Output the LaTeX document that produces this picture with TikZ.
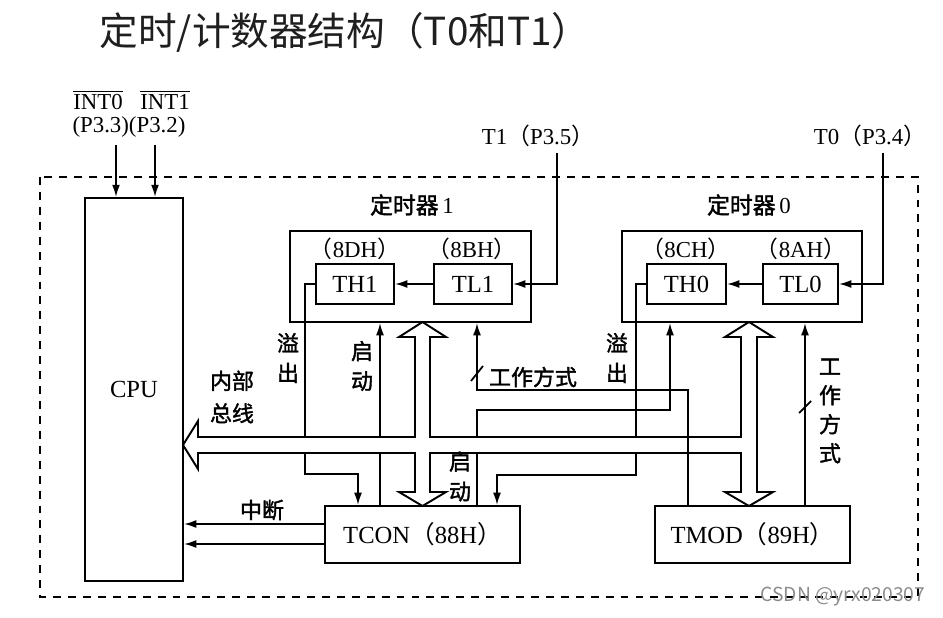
\documentclass[tikz,border=0pt]{standalone}
\usepackage{fontspec}
\setmainfont{Liberation Serif}
\newfontfamily\cjk{Noto Sans CJK SC}
\newfontfamily\cjkb{Noto Sans CJK SC}[FakeBold=1.6]
\usetikzlibrary{arrows.meta}
\newcommand{\zlp}{{\cjk （}}
\newcommand{\zrp}{{\cjk ）}}

\begin{document}
\begin{tikzpicture}[x=0.02cm, y=-0.02cm, line width=1pt,
    font=\fontsize{13}{15}\selectfont,
    reg/.style={rectangle, draw, line width=1.1pt, inner sep=0pt, font=\fontsize{14}{16}\selectfont},
    grp/.style={rectangle, draw, line width=1.1pt, inner sep=0pt},
    zh/.style={font=\fontsize{12.5}{17}\selectfont\cjkb, align=center, inner sep=0pt},
    arr/.style={-{Latex[length=7pt,width=4.5pt]}},
    bus/.style={line width=1.1pt, line join=miter}]
\useasboundingbox (0,0) rectangle (943,618);

% title
\node[font=\fontsize{22}{26}\selectfont\cjk, text=black!88] (title) at (345,32) {定时/计数器结构（T0和T1）};

% dashed frame
\draw[line width=1.1pt, dash pattern=on 4.5pt off 4pt] (40,177) rectangle (918,597);

% CPU
\node[reg, minimum width=1.96cm, minimum height=7.66cm] (cpu) at (134,389.5) {CPU};
\node (int0lbl) at (98,100) {$\overline{\hbox{INT0}}$};
\node (int1lbl) at (165,100) {$\overline{\hbox{INT1}}$};
\node (plbl) at (129,127) {(P3.3)(P3.2)};
\coordinate (int0in) at (116,145);
\coordinate (int1in) at (155,145);
\draw[arr] (int0in) -- (int0in |- cpu.north);
\draw[arr] (int1in) -- (int1in |- cpu.north);

% timer 1
\node[grp, minimum width=4.82cm, minimum height=1.82cm] (tm1) at (410.5,276.5) {};
\node (tm1lbl) at (412,205) {{\cjkb 定时器}\,1};
\node[reg, minimum width=1.56cm, minimum height=0.8cm] (th1) at (355,284) {TH1};
\node[reg, minimum width=1.56cm, minimum height=0.8cm] (tl1) at (473,284) {TL1};
\node (th1lbl) at (355,249) {\zlp 8DH\zrp};
\node (tl1lbl) at (472,249) {\zlp 8BH\zrp};
\draw[arr] (tl1) -- (th1);
\node (t1lbl) at (538,136) {T1\zlp P3.5\zrp};
\coordinate (t1in) at (557,153);
\draw[arr] (t1in) |- (tl1.east);

% timer 0
\node[grp, minimum width=4.8cm, minimum height=1.82cm] (tm0) at (742,276.5) {};
\node (tm0lbl) at (749,205) {{\cjkb 定时器}\,0};
\node[reg, minimum width=1.58cm, minimum height=0.8cm] (th0) at (686.5,284) {TH0};
\node[reg, minimum width=1.5cm, minimum height=0.8cm] (tl0) at (800.5,284) {TL0};
\node (th0lbl) at (686,249) {\zlp 8CH\zrp};
\node (tl0lbl) at (801,249) {\zlp 8AH\zrp};
\draw[arr] (tl0) -- (th0);
\node (t0lbl) at (870,136) {T0\zlp P3.4\zrp};
\coordinate (t0in) at (883,153);
\draw[arr] (t0in) |- (tl0.east);

% control registers
\node[reg, minimum width=3.9cm, minimum height=1.14cm] (tcon) at (422.5,534.5) {TCON\zlp 88H\zrp};
\node[reg, minimum width=3.9cm, minimum height=1.14cm] (tmod) at (752.5,534.5) {TMOD\zlp 89H\zrp};

% internal bus
\coordinate (btop) at (0,437);
\coordinate (bbot) at (0,453);
\draw[bus] (198,437) -- (415,437) -- (415,337) -- (399,337) -- (422.5,322) -- (446,337)
  -- (430,337) -- (430,437) -- (741,437) -- (741,337) -- (725,337) -- (749,322)
  -- (773,337) -- (757,337) -- (757,492) -- (773,492) -- (749,506) -- (725,492)
  -- (741,492) -- (741,453) -- (430,453) -- (430,492) -- (446,492) -- (422.5,506)
  -- (399,492) -- (415,492) -- (415,453) -- (198,453) -- (198,469) -- (183,445)
  -- (198,421) -- cycle;
\node[zh] (ibus) at (232,397) {内部\\[1.5pt]总线};

% overflow
\draw (th1.west) -- ++(-10,0) coordinate (o1) -- (o1 |- btop);
\coordinate (f1) at (358,474);
\draw[arr] (o1 |- bbot) |- (f1) -- (f1 |- tcon.north);
\node[zh] (ovf1) at (288,358) {溢\\出};
\draw (th0.west) -- ++(-10,0) coordinate (o0) -- (o0 |- btop);
\coordinate (f0) at (497,475);
\draw[arr] (o0 |- bbot) |- (f0) -- (f0 |- tcon.north);
\node[zh] (ovf0) at (617,358) {溢\\出};

% run control
\coordinate (r1) at (380,0);
\draw (r1 |- tcon.north) -- (r1 |- bbot);
\draw[arr] (r1 |- btop) -- (r1 |- tm1.south);
\node[zh] (run1) at (362,366) {启\\动};
\coordinate (s0) at (477,410);
\draw (s0 |- tcon.north) -- (s0 |- bbot);
\coordinate (s0r) at (670,410);
\draw[arr] (s0 |- btop) -- (s0) -- (s0r) -- (s0r |- tm0.south);
\node[zh] (run0) at (460,476.5) {启\\动};

% mode
\coordinate (m1) at (477,390);
\coordinate (m1r) at (688,390);
\draw[arr] (m1r |- tmod.north) -- (m1r) -- (m1) -- (m1 |- tm1.south);
\draw (m1) ++(-6,-9) -- ++(12,-15);
\node[zh] (mode1) at (533,377) {工作方式};
\coordinate (m0) at (805,407);
\draw[arr] (m0 |- tmod.north) -- (m0 |- tm0.south);
\draw (m0) ++(-6,6) -- ++(12,-12);
\node[zh] (mode0) at (830,411) {工\\[-0.5pt]作\\[-0.5pt]方\\[-0.5pt]式};

% interrupt
\draw[arr] ([yshift=0.21cm]tcon.west) coordinate (i1) -- (i1 -| cpu.east);
\draw[arr] ([yshift=-0.19cm]tcon.west) coordinate (i2) -- (i2 -| cpu.east);
\node[zh] (intr) at (262,510) {中断};

\node[font=\fontsize{11}{13}\selectfont\cjk, text=black!45] (wm) at (843,597) {CSDN @yrx020307};
\end{tikzpicture}
\end{document}
